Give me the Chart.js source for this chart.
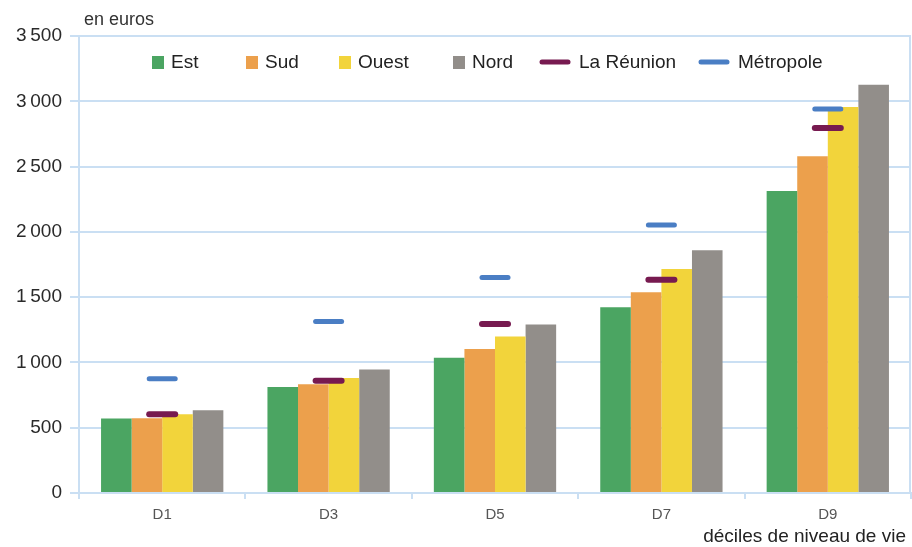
<!DOCTYPE html>
<html><head><meta charset="utf-8">
<script src="https://cdn.jsdelivr.net/npm/chart.js@4/dist/chart.umd.min.js"></script>
<style>html,body{margin:0;padding:0;background:#fff;}#wrap{width:912px;height:547px;}</style>
</head><body><div id="wrap"><canvas id="c" width="912" height="547"></canvas></div>
<script>
const categories = ['D1', 'D3', 'D5', 'D7', 'D9'];
const est = [570, 811, 1036, 1422, 2313];
const sud = [573, 832, 1102, 1537, 2580];
const ouest = [603, 880, 1198, 1715, 2957];
const nord = [634, 945, 1290, 1860, 3127];
const reunion = [603, 860, 1295, 1634, 2796];
const metropole = [875, 1313, 1651, 2053, 2941];
const yTickValues = [0, 500, 1000, 1500, 2000, 2500, 3000, 3500];
const yUnit = 'en euros';
const xTitle = 'déciles de niveau de vie';

const FONT = '"Liberation Sans", Arial, sans-serif';
const GRID = '#cadff3';

function fmt(v){ return String(v).replace(/\B(?=(\d{3})+(?!\d))/g, '\u2009'); }

const extras = {
  id: 'extras',
  beforeDatasetsDraw(chart){
    const {ctx, chartArea:a} = chart;
    ctx.save();
    ctx.strokeStyle = GRID; ctx.lineWidth = 2;
    ctx.beginPath(); ctx.moveTo(a.right - 1, a.top); ctx.lineTo(a.right - 1, a.bottom); ctx.stroke();
    ctx.restore();
    ctx.lineCap = 'round';
  },
  afterDatasetsDraw(chart){ chart.ctx.lineCap = 'butt'; },
  afterDraw(chart, args, opts){
    const {ctx, chartArea:a} = chart;
    ctx.save();
    ctx.font = '19px ' + FONT;
    ctx.textBaseline = 'middle';
    chart.data.datasets.forEach((ds, i) => {
      const x = opts.starts[i], y = opts.y;
      let tx;
      if (ds.type === 'line') {
        ctx.strokeStyle = ds.borderColor; ctx.lineWidth = 5; ctx.lineCap = 'round';
        ctx.beginPath(); ctx.moveTo(x + 3, y); ctx.lineTo(x + 29, y); ctx.stroke();
        tx = x + 40;
      } else {
        ctx.fillStyle = ds.backgroundColor;
        ctx.fillRect(x, y - 6, 12, 13);
        tx = x + 19;
      }
      ctx.fillStyle = '#222';
      ctx.textAlign = 'left';
      ctx.fillText(ds.label, tx, y + 1);
    });
    ctx.font = '18px ' + FONT;
    ctx.fillStyle = '#333';
    ctx.fillText(yUnit, a.left + 5, 20);
    ctx.font = '19px ' + FONT;
    ctx.textAlign = 'right';
    ctx.fillStyle = '#222';
    ctx.fillText(xTitle, 906, 537);
    ctx.restore();
  }
};

const barBase = { type: 'bar', order: 1, borderWidth: 0, categoryPercentage: 0.735, barPercentage: 1 };
const markBase = { type: 'line', order: 0, showLine: false, pointStyle: 'line', pointRadius: 13, pointHoverRadius: 13 };

new Chart(document.getElementById('c'), {
  data: {
    labels: categories,
    datasets: [
      Object.assign({ label: 'Est', data: est, backgroundColor: '#4ba562' }, barBase),
      Object.assign({ label: 'Sud', data: sud, backgroundColor: '#eca04c' }, barBase),
      Object.assign({ label: 'Ouest', data: ouest, backgroundColor: '#f2d43b' }, barBase),
      Object.assign({ label: 'Nord', data: nord, backgroundColor: '#928e8a' }, barBase),
      Object.assign({ label: 'La Réunion', data: reunion, borderColor: '#771a50', backgroundColor: '#771a50', pointBorderWidth: 6 }, markBase),
      Object.assign({ label: 'Métropole', data: metropole, borderColor: '#4a7ec4', backgroundColor: '#4a7ec4', pointBorderWidth: 5 }, markBase)
    ]
  },
  options: {
    responsive: false, animation: false, devicePixelRatio: 1,
    layout: { autoPadding: false, padding: { top: 36, right: 1, left: 0, bottom: 0 } },
    plugins: {
      legend: { display: false }, tooltip: { enabled: false },
      extras: { starts: [152, 246, 339, 453, 539, 698], y: 62 }
    },
    scales: {
      x: {
        offset: true,
        grid: { display: true, drawOnChartArea: false, drawTicks: true, tickLength: 6, color: GRID, lineWidth: 2, offset: true },
        border: { display: true, color: GRID, width: 2 },
        ticks: { font: { family: FONT, size: 15 }, color: '#555', padding: 7 },
        afterFit(s){ s.height = 54; s.paddingRight = 0; s.paddingLeft = 0; }
      },
      y: {
        min: 0, max: 3500,
        afterBuildTicks(s){ s.ticks = yTickValues.map(v => ({ value: v })); },
        grid: { color: GRID, lineWidth: 2, tickLength: 9 },
        border: { display: true, color: GRID, width: 2 },
        ticks: { font: { family: FONT, size: 19 }, color: '#2a2a2a', padding: 8, callback: v => fmt(v) },
        afterFit(s){ s.width = 79; }
      }
    }
  },
  plugins: [extras]
});
</script></body></html>
